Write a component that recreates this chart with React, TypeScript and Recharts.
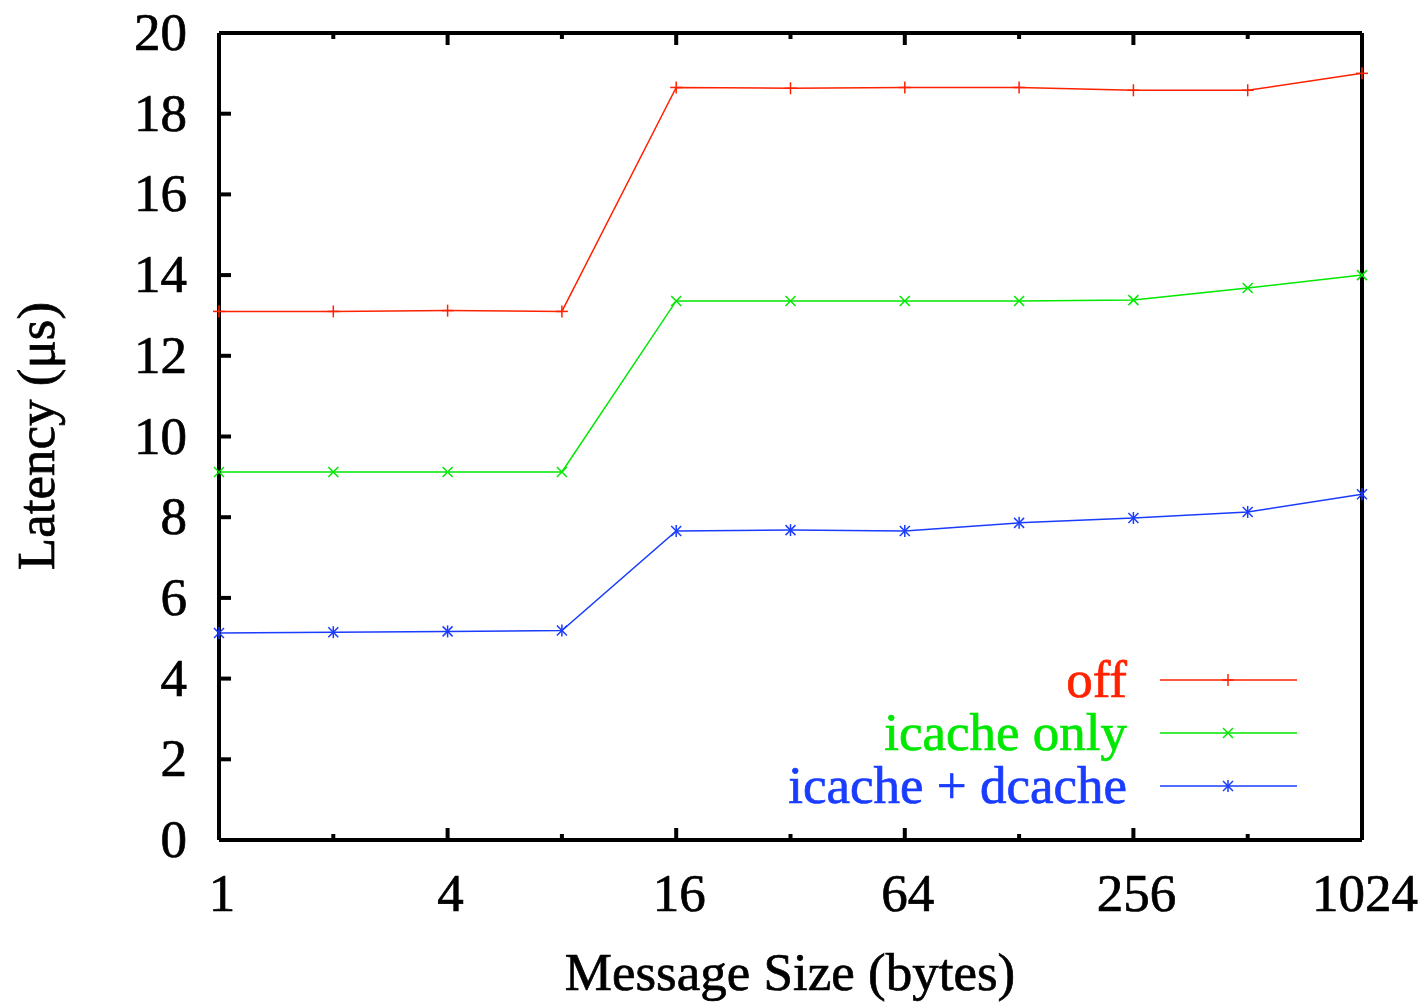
import React from "react";
import { LineChart, Line, XAxis, YAxis, Legend, Label } from "recharts";

const sizes = [1, 2, 4, 8, 16, 32, 64, 128, 256, 512, 1024];
const offLatency = [13.1, 13.1, 13.12, 13.1, 18.65, 18.63, 18.65, 18.65, 18.58, 18.58, 19.0];
const icacheOnly = [9.12, 9.12, 9.12, 9.12, 13.36, 13.36, 13.36, 13.36, 13.38, 13.68, 14.0];
const icacheDcache = [5.13, 5.15, 5.17, 5.19, 7.66, 7.68, 7.66, 7.86, 7.98, 8.13, 8.57];

const xTicks = [1, 2, 4, 8, 16, 32, 64, 128, 256, 512, 1024];
const xMajor = [1, 4, 16, 64, 256, 1024];
const yTicks = [0, 2, 4, 6, 8, 10, 12, 14, 16, 18, 20];
const seriesNames = ["off", "icache only", "icache + dcache"];

const data = sizes.map((size, i) => ({
  size,
  off: offLatency[i],
  icache: icacheOnly[i],
  both: icacheDcache[i],
}));

const FONT = "'Liberation Serif', 'DejaVu Serif', serif";
const FS = 53;
const RED = "#ff2200";
const GREEN = "#00e800";
const BLUE = "#1a3cff";

// gnuplot's raster text is a little heavier than plain Times
const txt = (color: string) => ({
  fontSize: FS,
  fontFamily: FONT,
  fill: color,
  stroke: color,
  strokeWidth: 0.7,
});

type Mark = "plus" | "cross" | "star";
const legendMarks: Mark[] = ["plus", "cross", "star"];

function marker(kind: Mark, cx: number, cy: number, color: string, key?: string) {
  const s = 6;
  const d = 5;
  return (
    <g key={key}>
      {kind !== "cross" && (
        <line x1={cx} x2={cx} y1={cy - s} y2={cy + s} stroke={color} strokeWidth={1.5} />
      )}
      {kind === "plus" && (
        <line x1={cx - s} x2={cx + s} y1={cy} y2={cy} stroke={color} strokeWidth={1.5} />
      )}
      {kind !== "plus" && (
        <>
          <line x1={cx - d} x2={cx + d} y1={cy - d} y2={cy + d} stroke={color} strokeWidth={1.5} />
          <line x1={cx - d} x2={cx + d} y1={cy + d} y2={cy - d} stroke={color} strokeWidth={1.5} />
        </>
      )}
    </g>
  );
}

const dotFor = (kind: Mark, color: string) => (props: any) =>
  marker(kind, props.cx, props.cy, color, `${kind}-${props.index}`);

function BottomTick({ x, y, payload }: any) {
  const major = xMajor.includes(payload.value);
  return (
    <g>
      <line x1={x} x2={x} y1={y} y2={y - (major ? 12 : 6)} stroke="#000" strokeWidth={4} />
      {major && (
        <text x={x + 3} y={y + 71} textAnchor="middle" {...txt("#000")}>
          {payload.value}
        </text>
      )}
    </g>
  );
}

function TopTick({ x, y, payload }: any) {
  const major = xMajor.includes(payload.value);
  return <line x1={x} x2={x} y1={y} y2={y + (major ? 12 : 6)} stroke="#000" strokeWidth={4} />;
}

function LeftTick({ x, y, payload }: any) {
  return (
    <g>
      <line x1={x} x2={x + 12} y1={y} y2={y} stroke="#000" strokeWidth={4} />
      <text x={x - 32} y={y + 17} textAnchor="end" {...txt("#000")}>
        {payload.value}
      </text>
    </g>
  );
}

function RightTick({ x, y }: any) {
  return <line x1={x} x2={x - 12} y1={y} y2={y} stroke="#000" strokeWidth={4} />;
}

function LegendBox({ payload }: any) {
  const entries = [...(payload || [])].sort(
    (a: any, b: any) => seriesNames.indexOf(a.value) - seriesNames.indexOf(b.value)
  );
  return (
    <svg width={560} height={170} style={{ display: "block" }}>
      {entries.map((entry: any) => {
        const i = seriesNames.indexOf(entry.value);
        const cy = 30 + i * 53;
        return (
          <g key={entry.value}>
            <text x={367} y={cy + 17} textAnchor="end" {...txt(entry.color)}>
              {entry.value}
            </text>
            <line x1={400} x2={537} y1={cy} y2={cy} stroke={entry.color} strokeWidth={1.5} />
            {marker(legendMarks[i], 468, cy, entry.color)}
          </g>
        );
      })}
    </svg>
  );
}

const frame = { stroke: "#000", strokeWidth: 4 };

export default function App() {
  return (
    <div style={{ position: "absolute", left: 0, top: 0, background: "#fff" }}>
      <LineChart width={1427} height={1004} data={data} margin={{ top: 32, right: 64, bottom: 163, left: 218 }}>
        <XAxis
          dataKey="size"
          type="number"
          scale="log"
          domain={[1, 1024]}
          ticks={xTicks}
          interval={0}
          height={1}
          tickSize={0}
          tickMargin={0}
          tick={<BottomTick />}
          axisLine={frame}
          tickLine={false}
        >
          <Label
            content={() => (
              <text x={790} y={990} textAnchor="middle" {...txt("#000")}>
                Message Size (bytes)
              </text>
            )}
          />
        </XAxis>
        <XAxis
          xAxisId="top"
          orientation="top"
          dataKey="size"
          type="number"
          scale="log"
          domain={[1, 1024]}
          ticks={xTicks}
          interval={0}
          height={1}
          tickSize={0}
          tickMargin={0}
          tick={<TopTick />}
          axisLine={frame}
          tickLine={false}
        />
        <YAxis
          domain={[0, 20]}
          ticks={yTicks}
          interval={0}
          width={1}
          tickSize={0}
          tickMargin={0}
          tick={<LeftTick />}
          axisLine={frame}
          tickLine={false}
        >
          <Label
            content={() => (
              <text x={54} y={436} transform="rotate(-90 54 436)" textAnchor="middle" {...txt("#000")}>
                Latency (μs)
              </text>
            )}
          />
        </YAxis>
        <YAxis
          yAxisId="right"
          orientation="right"
          domain={[0, 20]}
          ticks={yTicks}
          interval={0}
          width={1}
          tickSize={0}
          tickMargin={0}
          tick={<RightTick />}
          axisLine={frame}
          tickLine={false}
        />
        <Legend
          layout="vertical"
          align="center"
          verticalAlign="middle"
          content={<LegendBox />}
          wrapperStyle={{ position: "absolute", left: 760, top: 650, width: 560, height: 170 }}
        />
        <Line
          name="off"
          dataKey="off"
          stroke={RED}
          strokeWidth={1.5}
          dot={dotFor("plus", RED)}
          activeDot={false}
          isAnimationActive={false}
        />
        <Line
          name="icache only"
          dataKey="icache"
          stroke={GREEN}
          strokeWidth={1.5}
          dot={dotFor("cross", GREEN)}
          activeDot={false}
          isAnimationActive={false}
        />
        <Line
          name="icache + dcache"
          dataKey="both"
          stroke={BLUE}
          strokeWidth={1.5}
          dot={dotFor("star", BLUE)}
          activeDot={false}
          isAnimationActive={false}
        />
      </LineChart>
    </div>
  );
}
